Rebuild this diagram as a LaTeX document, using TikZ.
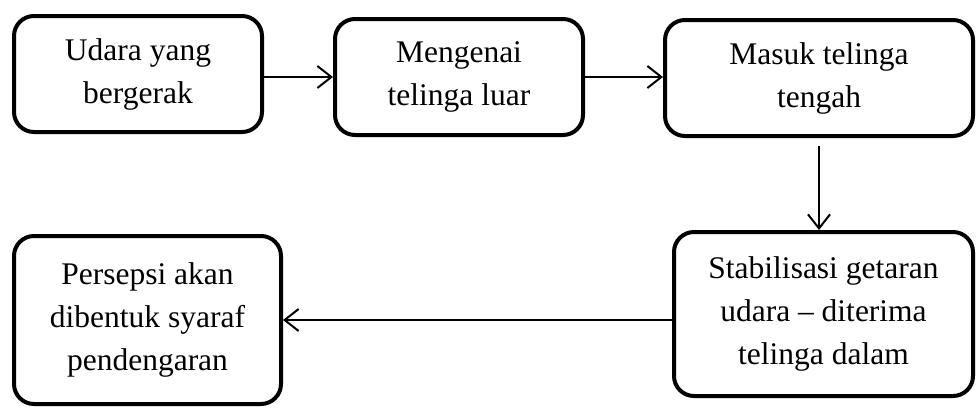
\documentclass[tikz,border=0pt]{standalone}
\usepackage{fontspec}
\setmainfont{Liberation Serif}
\usetikzlibrary{arrows.meta, positioning}

\begin{document}
\begin{tikzpicture}[x=1pt, y=-1pt,
    box/.style={draw, line width=4pt, rounded corners=20pt, align=center,
                inner sep=0pt, font=\fontsize{31.5}{43}\selectfont},
    arr/.style={-{Straight Barb[length=14pt, width=22pt]}, line width=2pt}]
  \useasboundingbox (0,0) rectangle (976,408);

  % Top row
  \node[box, minimum width=248, minimum height=116] (udara) at (138,74) {Udara yang\\bergerak};
  \node[box, minimum width=248, minimum height=116] (luar) at (459,77) {Mengenai\\telinga luar};
  \node[box, minimum width=308, minimum height=116] (tengah) at (819,78) {Masuk telinga\\tengah};

  % Bottom row
  \node[box, minimum width=299, minimum height=164] (dalam) at (823.5,314) {Stabilisasi getaran\\udara -- diterima\\telinga dalam};
  \node[box, minimum width=267, minimum height=168] (persepsi) at (147.5,320) {Persepsi akan\\dibentuk syaraf\\pendengaran};

  % Arrows
  \draw[arr] (udara.east |- luar.west) -- (luar.west);
  \draw[arr] (luar.east) -- (tengah.west |- luar.east);
  \draw[arr, shorten <=8pt] (tengah.south) -- (tengah.south |- dalam.north);
  \draw[arr] (dalam.west |- persepsi.east) -- (persepsi.east);
\end{tikzpicture}
\end{document}
